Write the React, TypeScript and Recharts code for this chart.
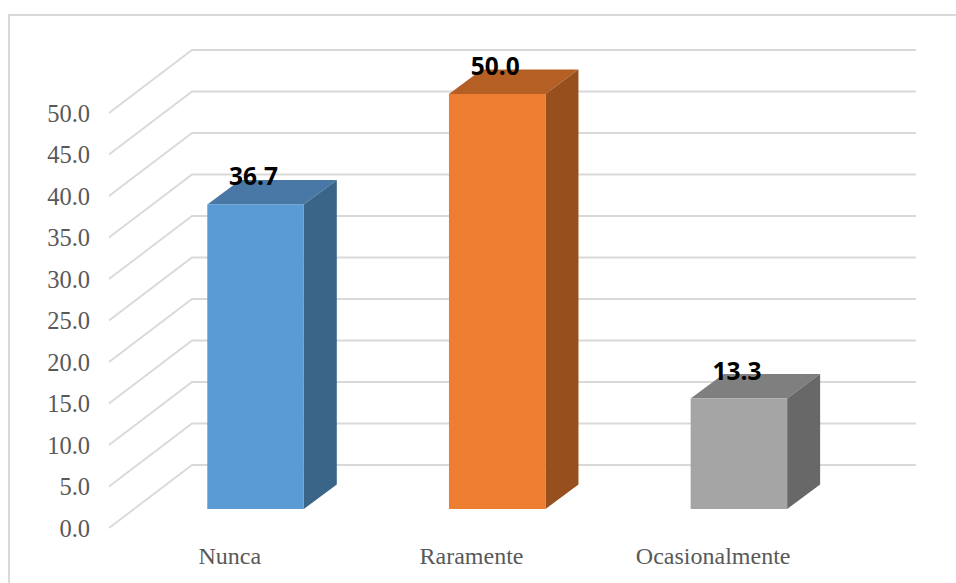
import { Bar, BarChart, CartesianGrid, LabelList, XAxis, YAxis } from "recharts";

const categories = ["Nunca", "Raramente", "Ocasionalmente"];
const values = [36.7, 50.0, 13.3];
const yTicks = [0, 5, 10, 15, 20, 25, 30, 35, 40, 45, 50];

const frontColors = ["#5B9BD5", "#ED7D31", "#A5A5A5"];
const topColors = ["#4A78A6", "#B65F24", "#7F7F7F"];
const sideColors = ["#3A6488", "#964F1D", "#686868"];

const rows = categories.map((name, i) => ({ name, value: values[i] }));

const WIDTH = 956;
const HEIGHT = 583;
const PLOT_LEFT = 109;
const PLOT_TOP = 113;
const PLOT_WIDTH = 725;
const PLOT_BOTTOM = 528;

// the wall sits up and to the right of the front plane, bars stand half way in
const WALL_DX = 83;
const WALL_DY = 63;
const BAR_DX = 25.3;
const BAR_DY = 19;
const DEPTH_X = 33;
const DEPTH_Y = 24.5;

const GRID = "#D9D9D9";
const AXIS_TEXT = "#595959";
const SERIF = "'Liberation Serif', serif";

function WallLine({ x1, x2, y1 }: any) {
  return (
    <polyline
      points={`${x1},${y1} ${x1 + WALL_DX},${y1 - WALL_DY} ${x2 + WALL_DX - 1},${y1 - WALL_DY}`}
      fill="none"
      stroke={GRID}
      strokeWidth={1.8}
    />
  );
}

function ValueTick({ x, y, payload }: any) {
  return (
    <text x={x - 19} y={y + 8.5} textAnchor="end" fontFamily={SERIF} fontSize={24.5} fill={AXIS_TEXT}>
      {payload.value.toFixed(1)}
    </text>
  );
}

function CategoryTick({ x, y, payload }: any) {
  return (
    <text x={x} y={y + 36} textAnchor="middle" fontFamily={SERIF} fontSize={24} fill={AXIS_TEXT}>
      {payload.value}
    </text>
  );
}

function Box({ x, y, width, height, index }: any) {
  const left = x + BAR_DX;
  const right = left + width;
  const top = y - BAR_DY;
  const bottom = top + height;
  return (
    <g>
      <polygon
        points={`${left},${top} ${left + DEPTH_X},${top - DEPTH_Y} ${right + DEPTH_X},${top - DEPTH_Y} ${right},${top}`}
        fill={topColors[index]}
      />
      <polygon
        points={`${right},${top} ${right + DEPTH_X},${top - DEPTH_Y} ${right + DEPTH_X},${bottom - DEPTH_Y} ${right},${bottom}`}
        fill={sideColors[index]}
      />
      <rect x={left} y={top} width={width} height={height} fill={frontColors[index]} />
    </g>
  );
}

function ValueLabel({ x, y, width, value }: any) {
  return (
    <text
      x={x + BAR_DX + width / 2 - 2}
      y={y - BAR_DY - 19}
      textAnchor="middle"
      fontFamily="'Open Sans', sans-serif"
      fontWeight={700}
      fontSize={24.5}
      fill="#000000"
    >
      {Number(value).toFixed(1)}
    </text>
  );
}

export default function App() {
  return (
    <div style={{ position: "absolute", left: 0, top: 0, width: WIDTH, height: HEIGHT, background: "#fff", overflow: "hidden" }}>
      <div
        style={{
          position: "absolute",
          left: 8,
          top: 14,
          right: 0,
          bottom: 0,
          borderLeft: `2px solid ${GRID}`,
          borderTop: `2px solid ${GRID}`,
        }}
      />
      <div style={{ position: "absolute", left: 0, top: 0 }}>
        <BarChart
          width={WIDTH}
          height={HEIGHT}
          data={rows}
          margin={{ top: PLOT_TOP, right: WIDTH - PLOT_LEFT - PLOT_WIDTH, bottom: 0, left: 0 }}
          barSize={96.5}
          style={{ overflow: "visible" }}
        >
          <CartesianGrid vertical={false} horizontal={<WallLine />} horizontalValues={yTicks} />
          <YAxis
            type="number"
            domain={[0, 50]}
            ticks={yTicks}
            interval={0}
            width={PLOT_LEFT}
            axisLine={false}
            tickLine={false}
            tickSize={0}
            tickMargin={0}
            tick={<ValueTick />}
          />
          <XAxis
            dataKey="name"
            height={HEIGHT - PLOT_BOTTOM}
            interval={0}
            axisLine={false}
            tickLine={false}
            tickSize={0}
            tickMargin={0}
            tick={<CategoryTick />}
          />
          <Bar dataKey="value" isAnimationActive={false} shape={<Box />}>
            <LabelList dataKey="value" content={<ValueLabel />} />
          </Bar>
        </BarChart>
      </div>
    </div>
  );
}
